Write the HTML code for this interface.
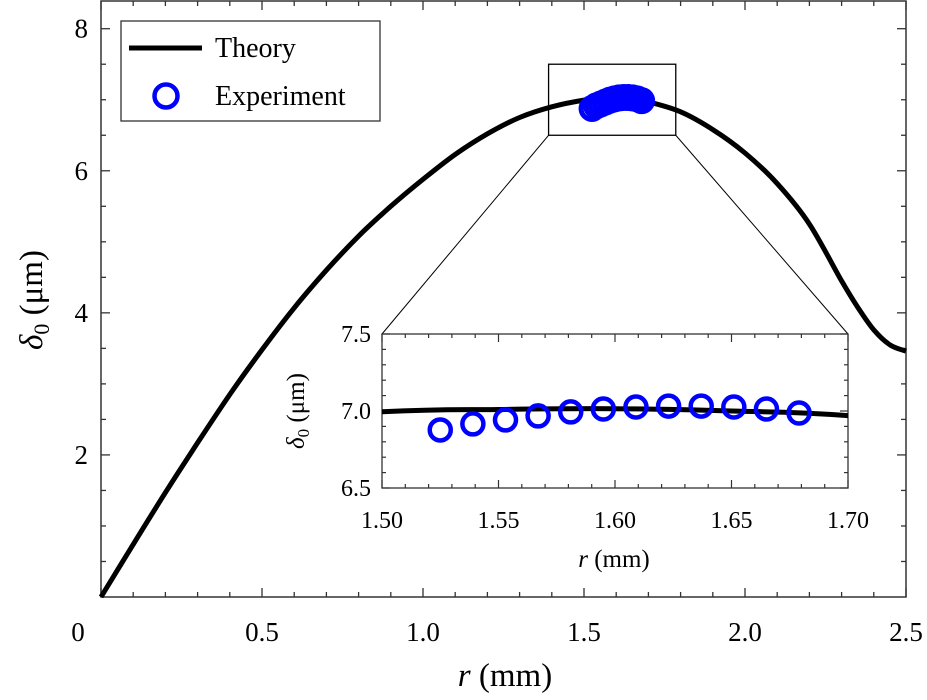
<!DOCTYPE html>
<html><head><meta charset="utf-8"><style>
html,body{margin:0;padding:0;background:#fff;overflow:hidden}
svg{display:block;font-family:"Liberation Serif",serif}
</style></head><body>
<svg id="chart" width="927" height="700" viewBox="0 0 927 700"></svg>
<script>
const theoryR=[0,0.1,0.2,0.3,0.4,0.5,0.6,0.7,0.8,0.9,1.0,1.1,1.2,1.3,1.4,1.5,1.55,1.6,1.65,1.7,1.8,1.9,2.0,2.1,2.2,2.3,2.35,2.4,2.45,2.5];
const theoryV=[0,0.74,1.47,2.17,2.85,3.48,4.07,4.6,5.08,5.5,5.88,6.23,6.52,6.75,6.9,6.995,7.01,7.015,7.0,6.97,6.83,6.58,6.25,5.82,5.25,4.45,4.08,3.76,3.55,3.46];
const expR=[1.525,1.539,1.553,1.567,1.581,1.595,1.609,1.623,1.637,1.651,1.665,1.679];
const expV=[6.877,6.916,6.942,6.968,6.994,7.013,7.026,7.032,7.032,7.026,7.013,6.987];
const mainXTicks=["0","0.5","1.0","1.5","2.0","2.5"];
const mainYTicks=["2","4","6","8"];
const insetXTicks=["1.50","1.55","1.60","1.65","1.70"];
const insetYTicks=["6.5","7.0","7.5"];
const zoomBoxR=[1.39,1.785];
const zoomBoxV=[6.5,7.5];

const NS="http://www.w3.org/2000/svg";
const svg=document.getElementById('chart');
function el(tag,attrs,parent,text){const e=document.createElementNS(NS,tag);for(const k in attrs)e.setAttribute(k,attrs[k]);if(text!==undefined)e.textContent=text;(parent||svg).appendChild(e);return e;}
const M={x0:101,x1:906,y0:597,y1:1,rMin:0,rMax:2.5,vMin:0,vMax:8.39};
const mx=r=>M.x0+(r-M.rMin)/(M.rMax-M.rMin)*(M.x1-M.x0);
const my=v=>M.y0-(v-M.vMin)/(M.vMax-M.vMin)*(M.y0-M.y1);
const I={x0:382,x1:848,y0:488,y1:334,rMin:1.5,rMax:1.7,vMin:6.5,vMax:7.5};
const ix=r=>I.x0+(r-I.rMin)/(I.rMax-I.rMin)*(I.x1-I.x0);
const iy=v=>I.y0-(v-I.vMin)/(I.vMax-I.vMin)*(I.y0-I.y1);

function smoothPath(pts){let d="M"+pts[0][0].toFixed(1)+","+pts[0][1].toFixed(1);
 for(let i=0;i<pts.length-1;i++){const p0=pts[i-1]||pts[i],p1=pts[i],p2=pts[i+1],p3=pts[i+2]||p2;
  const c1=[p1[0]+(p2[0]-p0[0])/6,p1[1]+(p2[1]-p0[1])/6],c2=[p2[0]-(p3[0]-p1[0])/6,p2[1]-(p3[1]-p1[1])/6];
  d+=" C"+c1[0].toFixed(1)+","+c1[1].toFixed(1)+" "+c2[0].toFixed(1)+","+c2[1].toFixed(1)+" "+p2[0].toFixed(1)+","+p2[1].toFixed(1);}
 return d;}

const mf=el('rect',{x:M.x0,y:M.y1,width:M.x1-M.x0,height:M.y0-M.y1,fill:'none',stroke:'#333','stroke-width':1.5});


const mt=el('g',{stroke:'#333','stroke-width':1.3});


for(let i=0;i<=25;i++){const r=i*0.1,x=mx(r),L=(i%5===0)?9:5;
 el('line',{x1:x,y1:M.y0,x2:x,y2:M.y0-L},mt);el('line',{x1:x,y1:M.y1,x2:x,y2:M.y1+L},mt);}
for(let i=1;i<=16;i++){const v=i*0.5,y=my(v),L=(i%4===0)?9:5;
 el('line',{x1:M.x0,y1:y,x2:M.x0+L,y2:y},mt);el('line',{x1:M.x1,y1:y,x2:M.x1-L,y2:y},mt);}
mainXTicks.forEach((t,i)=>{const r=parseFloat(t);const x=(r===0)?78:mx(r);
 const e=el('text',{x:x,y:641,'font-size':27,'text-anchor':'middle'},svg,t);
 
 });
mainYTicks.forEach(t=>{const e=el('text',{x:88,y:my(parseFloat(t))+9,'font-size':27,'text-anchor':'end'},svg,t);
 
 });
const xt=el('text',{x:505,y:686,'font-size':33,'text-anchor':'middle'});


el('tspan',{'font-style':'italic'},xt,'r');el('tspan',{},xt,' (mm)');
const yt=el('text',{x:0,y:0,'font-size':33,'text-anchor':'middle',transform:'translate(42,300) rotate(-90)'});


el('tspan',{'font-style':'italic'},yt,'δ');el('tspan',{'font-size':22,dy:7},yt,'0');el('tspan',{dy:-7},yt,' (μm)');

const tp=el('path',{d:smoothPath(theoryR.map((r,i)=>[mx(r),my(theoryV[i])])),fill:'none',stroke:'#000','stroke-width':5,'stroke-linejoin':'round'});


const eg=el('g',{fill:'none',stroke:'#0000ff','stroke-width':5});


expR.forEach((r,i)=>{const c=el('circle',{cx:mx(r),cy:my(expV[i]),r:11},eg);
 
 });
const zb=el('rect',{x:mx(zoomBoxR[0]),y:my(zoomBoxV[1]),width:mx(zoomBoxR[1])-mx(zoomBoxR[0]),height:my(zoomBoxV[0])-my(zoomBoxV[1]),fill:'none',stroke:'#000','stroke-width':1.3});


const c1=el('line',{x1:mx(zoomBoxR[0]),y1:my(zoomBoxV[0]),x2:I.x0,y2:I.y1,stroke:'#000','stroke-width':1});


const c2=el('line',{x1:mx(zoomBoxR[1]),y1:my(zoomBoxV[0]),x2:I.x1,y2:I.y1,stroke:'#000','stroke-width':1});



const lg=el('g',{});


el('rect',{x:121,y:21,width:259,height:100,fill:'#fff',stroke:'#333','stroke-width':1.3},lg);
el('line',{x1:129,y1:48,x2:202,y2:48,stroke:'#000','stroke-width':5},lg);
const l1=el('text',{x:215,y:57,'font-size':28},lg,'Theory');


el('circle',{cx:166,cy:96,r:11.5,fill:'none',stroke:'#0000ff','stroke-width':4.5},lg);
const l2=el('text',{x:215,y:105,'font-size':28},lg,'Experiment');



const ig=el('g',{});


el('rect',{x:I.x0,y:I.y1,width:I.x1-I.x0,height:I.y0-I.y1,fill:'#fff',stroke:'#333','stroke-width':1.3},ig);
const clip=el('clipPath',{id:'ic'},ig);el('rect',{x:I.x0,y:I.y1,width:I.x1-I.x0,height:I.y0-I.y1},clip);
const itk=el('g',{stroke:'#333','stroke-width':1.2},ig);
for(let i=0;i<=20;i++){const r=1.5+i*0.01,x=ix(r),L=(i%5===0)?8:4;
 el('line',{x1:x,y1:I.y0,x2:x,y2:I.y0-L},itk);el('line',{x1:x,y1:I.y1,x2:x,y2:I.y1+L},itk);}
for(let i=0;i<=10;i++){const v=6.5+i*0.1,y=iy(v),L=(i%5===0)?8:4;
 el('line',{x1:I.x0,y1:y,x2:I.x0+L,y2:y},itk);el('line',{x1:I.x1,y1:y,x2:I.x1-L,y2:y},itk);}
insetXTicks.forEach(t=>{const e=el('text',{x:ix(parseFloat(t)),y:528,'font-size':24,'text-anchor':'middle'},ig,t);
 
 });
insetYTicks.forEach(t=>{const e=el('text',{x:371,y:iy(parseFloat(t))+8,'font-size':24,'text-anchor':'end'},ig,t);
 
 });
const ixt=el('text',{x:614,y:567,'font-size':25,'text-anchor':'middle'},ig);


el('tspan',{'font-style':'italic'},ixt,'r');el('tspan',{},ixt,' (mm)');
const iyt=el('text',{x:0,y:0,'font-size':25,'text-anchor':'middle',transform:'translate(304,411) rotate(-90)'},ig);


el('tspan',{'font-style':'italic'},iyt,'δ');el('tspan',{'font-size':17,dy:5},iyt,'0');el('tspan',{dy:-5},iyt,' (μm)');
const icv=el('g',{'clip-path':'url(#ic)'},ig);
const itp=el('path',{d:smoothPath(theoryR.map((r,i)=>[ix(r),iy(theoryV[i])])),fill:'none',stroke:'#000','stroke-width':5},icv);


const ieg=el('g',{fill:'none',stroke:'#0000ff','stroke-width':4.5},ig);


expR.forEach((r,i)=>{const c=el('circle',{cx:ix(r),cy:iy(expV[i]),r:10.5},ieg);
 
 });
</script>
</body></html>
